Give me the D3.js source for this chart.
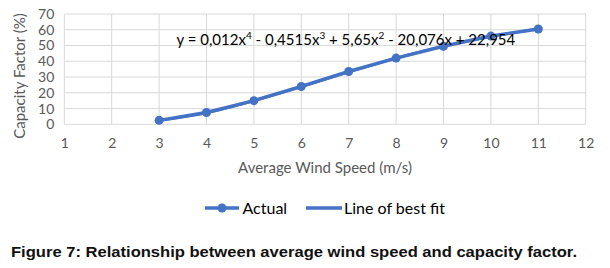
<!DOCTYPE html>
<html><head><meta charset="utf-8">
<script src="https://cdn.jsdelivr.net/npm/d3@7"></script>
<style>body{margin:0;background:#fff}svg{display:block}</style>
</head><body>
<svg id="c" width="610" height="268"></svg>
<script>
const windSpeed = [3, 4, 5, 6, 7, 8, 9, 10, 11];
const actualCF = [2.5, 7.5, 15, 24, 33.5, 42, 49.5, 56, 60.5];
const fitCF = [2.4, 7.2, 14.9, 23.9, 33.2, 41.9, 49.5, 55.7, 60.5];
const xTicks = [1,2,3,4,5,6,7,8,9,10,11,12];
const yTicks = [0,10,20,30,40,50,60,70];
const seriesNames = ["Actual", "Line of best fit"];

const svg = d3.select("#c");
const blue = "#4472C4";
const font = "Lato, 'Open Sans', sans-serif";
const x = d3.scaleLinear().domain([1, 12]).range([64.3, 585.7]);
const y = d3.scaleLinear().domain([0, 70]).range([124.3, 14]);

// grid
svg.append("g").selectAll("line").data(xTicks).join("line")
  .attr("x1", d => x(d)).attr("x2", d => x(d)).attr("y1", y(0)).attr("y2", y(70))
  .attr("stroke", "#d9d9d9").attr("stroke-width", 1);
svg.append("g").selectAll("line").data(yTicks).join("line")
  .attr("x1", x(1)).attr("x2", x(12)).attr("y1", d => y(d)).attr("y2", d => y(d))
  .attr("stroke", "#d9d9d9").attr("stroke-width", 1);

// axes (labels only)
const xa = svg.append("g").attr("transform", `translate(0,${y(0)})`)
  .call(d3.axisBottom(x).tickValues(xTicks).tickSize(0).tickPadding(14).tickFormat(d3.format("d")));
xa.select(".domain").remove();
xa.selectAll("text").attr("fill", "#595959").attr("font-size", 14).attr("font-family", font);
const ya = svg.append("g").attr("transform", `translate(${x(1)},0)`)
  .call(d3.axisLeft(y).tickValues(yTicks).tickSize(0).tickPadding(10));
ya.select(".domain").remove();
ya.selectAll("text").attr("fill", "#595959").attr("font-size", 14).attr("font-family", font);

// fit line
const fitData = windSpeed.map((d, i) => [d, fitCF[i]]);
svg.append("path").datum(fitData)
  .attr("d", d3.line().x(d => x(d[0])).y(d => y(d[1])).curve(d3.curveCatmullRom))
  .attr("fill", "none").attr("stroke", blue).attr("stroke-width", 2.5);

// actual line
const actData = windSpeed.map((d, i) => [d, actualCF[i]]);
svg.append("path").datum(actData)
  .attr("d", d3.line().x(d => x(d[0])).y(d => y(d[1])))
  .attr("fill", "none").attr("stroke", blue).attr("stroke-width", 3.5).attr("stroke-linejoin", "round");
svg.append("g").selectAll("circle").data(actData).join("circle")
  .attr("cx", d => x(d[0])).attr("cy", d => y(d[1])).attr("r", 4.5).attr("fill", blue);

// equation
const eq = svg.append("text").attr("x", 176.5).attr("y", 45).attr("font-family", font)
  .attr("font-size", 15).attr("fill", "#000");
const parts = [["y = 0,012x",0],["4",1],[" - 0,4515x",0],["3",1],[" + 5,65x",0],["2",1],[" - 20,076x + 22,954",0]];
parts.forEach(p => {
  const t = eq.append("tspan").text(p[0]);
  if (p[1]) t.attr("font-size", 10).attr("dy", -6);
  else t.attr("dy", eq.selectAll("tspan").size() > 1 ? 6 : 0);
});

// axis titles
svg.append("text").attr("x", 325).attr("y", 173).attr("text-anchor", "middle")
  .attr("font-family", font).attr("font-size", 15).attr("fill", "#595959").text("Average Wind Speed (m/s)");
svg.append("text").attr("transform", "translate(25,76) rotate(-90)").attr("text-anchor", "middle")
  .attr("font-family", font).attr("font-size", 15).attr("fill", "#595959").text("Capacity Factor (%)");

// legend
const lg = svg.append("g");
lg.append("line").attr("x1", 205).attr("x2", 239).attr("y1", 208).attr("y2", 208).attr("stroke", blue).attr("stroke-width", 3.5);
lg.append("circle").attr("cx", 222).attr("cy", 208).attr("r", 4.5).attr("fill", blue);
lg.append("text").attr("x", 242.5).attr("y", 213.5).attr("font-family", font).attr("font-size", 16).attr("fill", "#000").text(seriesNames[0]);
lg.append("line").attr("x1", 306).attr("x2", 342).attr("y1", 208).attr("y2", 208).attr("stroke", blue).attr("stroke-width", 3.5);
lg.append("text").attr("x", 344).attr("y", 213.5).attr("font-family", font).attr("font-size", 16).attr("fill", "#000").text(seriesNames[1]);

// caption
svg.append("text").attr("x", 11).attr("y", 257).attr("font-family", "'Liberation Sans', Arial, sans-serif")
  .attr("font-weight", "bold").attr("font-size", 15).attr("fill", "#111")
  .attr("textLength", 566).attr("lengthAdjust", "spacingAndGlyphs")
  .text("Figure 7: Relationship between average wind speed and capacity factor.");
</script>
</body></html>
